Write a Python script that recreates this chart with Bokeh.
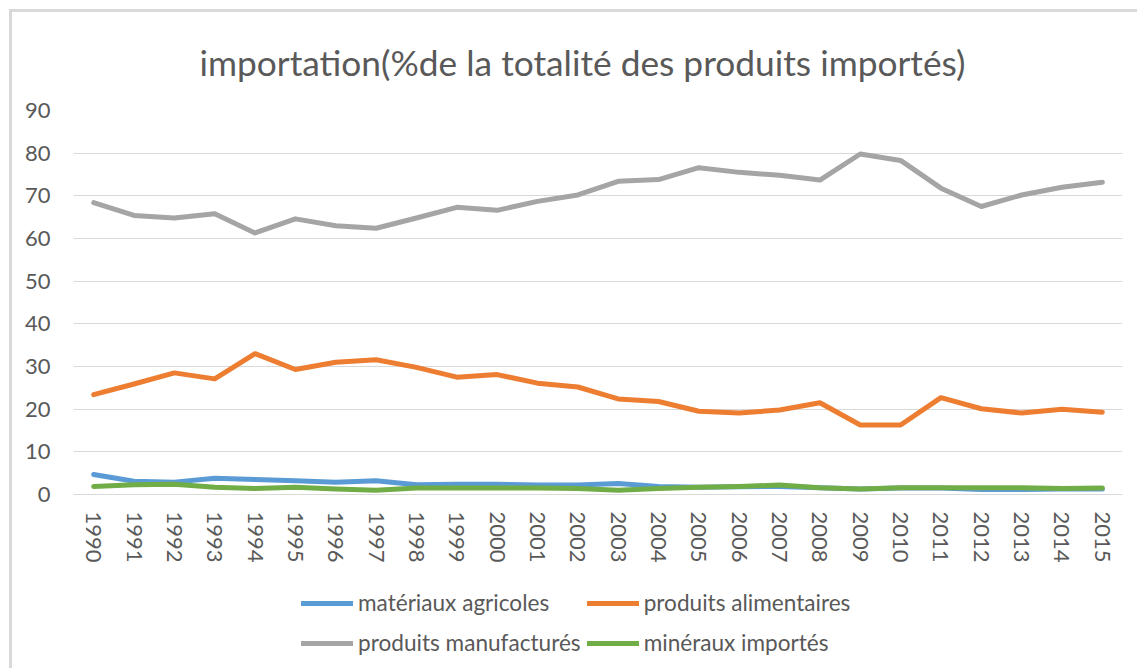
from bokeh.plotting import figure
from bokeh.layouts import column
from bokeh.models import Range1d, FactorRange, SingleIntervalTicker, Legend, LegendItem
from bokeh.embed import file_html
from bokeh.resources import INLINE

years = ["1990", "1991", "1992", "1993", "1994", "1995", "1996", "1997", "1998",
         "1999", "2000", "2001", "2002", "2003", "2004", "2005", "2006", "2007",
         "2008", "2009", "2010", "2011", "2012", "2013", "2014", "2015"]

agricoles = [4.7, 3.1, 2.9, 3.8, 3.5, 3.2, 2.9, 3.2, 2.3, 2.4, 2.4, 2.2, 2.2,
             2.6, 1.9, 1.7, 1.8, 1.9, 1.6, 1.3, 1.5, 1.5, 1.2, 1.2, 1.3, 1.3]
alimentaires = [23.4, 25.9, 28.5, 27.1, 33.0, 29.3, 31.0, 31.6, 29.8, 27.5, 28.1, 26.1, 25.2,
                22.4, 21.8, 19.5, 19.1, 19.8, 21.5, 16.3, 16.3, 22.7, 20.1, 19.1, 20.0, 19.3]
manufactures = [68.4, 65.4, 64.8, 65.8, 61.3, 64.6, 63.0, 62.4, 64.8, 67.3, 66.6, 68.7, 70.2,
                73.4, 73.8, 76.6, 75.5, 74.8, 73.7, 79.8, 78.3, 71.8, 67.5, 70.2, 72.0, 73.2]
mineraux = [1.9, 2.3, 2.4, 1.7, 1.4, 1.7, 1.3, 1.0, 1.5, 1.5, 1.5, 1.5, 1.4,
            1.0, 1.4, 1.7, 1.9, 2.2, 1.6, 1.3, 1.6, 1.6, 1.6, 1.6, 1.4, 1.5]

labels = ["matériaux agricoles", "produits alimentaires",
          "produits manufacturés", "minéraux importés"]
colors = ["#5B9BD5", "#ED7D31", "#A5A5A5", "#70AD47"]
title_text = "importation(%de la totalité des produits importés)"

FONT = "Lato"
GREY_TXT = "#595959"

# ---- main chart ----
p = figure(width=1128, height=560, x_range=FactorRange(factors=years),
           y_range=Range1d(0, 90), output_backend="svg", toolbar_location=None,
           min_border_left=61, min_border_right=18, min_border_top=98,
           min_border_bottom=78, title=title_text)

p.title.align = "left"
p.title.offset = 126
p.title.text_font = FONT
p.title.text_font_size = "35.3px"
p.title.text_font_style = "normal"
p.title.text_color = GREY_TXT
p.title.standoff = 53

p.outline_line_color = None
p.background_fill_color = "white"
p.border_fill_color = "white"

p.xgrid.grid_line_color = None
p.ygrid.grid_line_color = "#D9D9D9"
p.ygrid.grid_line_width = 1

p.yaxis.ticker = SingleIntervalTicker(interval=10)
p.yaxis.axis_line_color = None
p.yaxis.major_tick_line_color = None
p.yaxis.minor_tick_line_color = None
p.yaxis.major_label_standoff = 17
p.yaxis.major_label_text_font = FONT
p.yaxis.major_label_text_font_size = "22px"
p.yaxis.major_label_text_color = GREY_TXT

p.xaxis.axis_line_color = "#D9D9D9"
p.xaxis.major_tick_line_color = None
p.xaxis.minor_tick_line_color = None
p.xaxis.major_label_orientation = "vertical"
p.xaxis.major_label_standoff = 11
p.xaxis.major_label_text_font = FONT
p.xaxis.major_label_text_font_size = "22px"
p.xaxis.major_label_text_color = GREY_TXT

series = [agricoles, alimentaires, manufactures, mineraux]
for col, vals in zip(colors, series):
    p.line(years, vals, line_color=col, line_width=5, line_join="round", line_cap="round")

# ---- legend strip below the chart ----
pl = figure(width=1128, height=99, x_range=Range1d(0, 1), y_range=Range1d(0, 1),
            output_backend="svg", toolbar_location=None,
            x_axis_type=None, y_axis_type=None,
            min_border_left=61, min_border_right=18, min_border_top=0, min_border_bottom=0)
pl.outline_line_color = None
pl.xgrid.grid_line_color = None
pl.ygrid.grid_line_color = None
pl.background_fill_color = "white"
pl.border_fill_color = "white"

# legend-only renderers, kept outside the visible range of this strip
items = []
for lab, col in zip(labels, colors):
    r = pl.line(x=[-5, -4], y=[-5, -4], line_color=col, line_width=5, line_cap="round")
    items.append(LegendItem(label=lab, renderers=[r]))

legend = Legend(items=items, orientation="horizontal", ncols=2,
                location=(228, 11.5), padding=0, margin=0, spacing=6,
                glyph_width=52, glyph_height=34, label_height=34, label_standoff=5,
                label_text_font=FONT, label_text_font_size="22.6px",
                label_text_color=GREY_TXT, border_line_color=None,
                background_fill_alpha=0)
pl.add_layout(legend)

layout = column(p, pl, spacing=0)
layout.styles = {"position": "relative", "left": "12px", "top": "12px",
                 "box-shadow": "-3px -3px 0 0 #d9d9d9"}

open("out.html", "w").write(file_html(layout, INLINE))
